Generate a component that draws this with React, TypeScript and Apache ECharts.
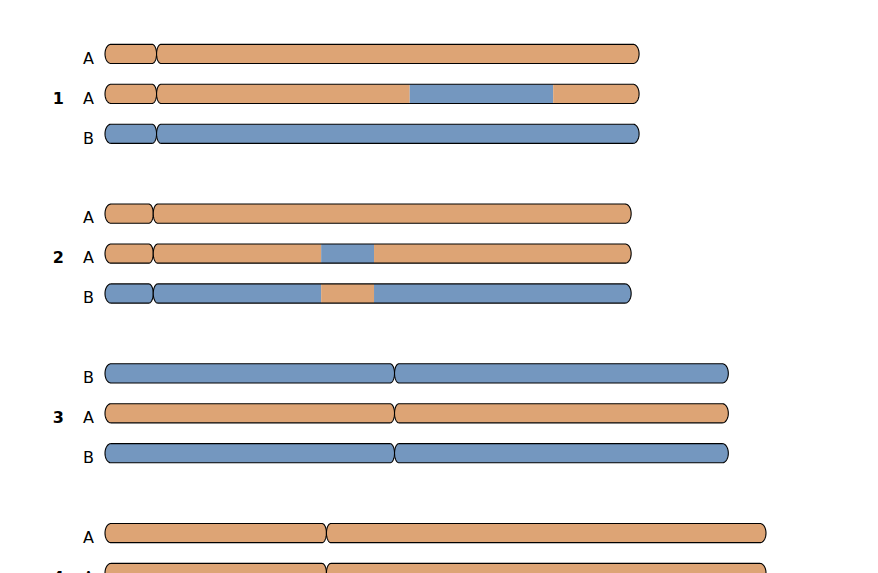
import React, { useEffect, useRef } from 'react';
import * as echarts from 'echarts';

const chromosomeNames = ['1', '2', '3', '4'];
const chromosomeLengths = [80.8, 79.6, 94.3, 100.0];
const centromerePositions = [7.8, 7.3, 43.8, 33.5];
const haplotypeLabels = [
  ['A', 'A', 'B'],
  ['A', 'A', 'B'],
  ['B', 'A', 'B'],
  ['A', 'A', 'B'],
];
// segments: [start, end, haplotype]
const chr1Segments = [
  [[0, 80.8, 'A']],
  [[0, 46.1, 'A'], [46.1, 67.8, 'B'], [67.8, 80.8, 'A']],
  [[0, 80.8, 'B']],
];
const chr2Segments = [
  [[0, 79.6, 'A']],
  [[0, 32.7, 'A'], [32.7, 40.7, 'B'], [40.7, 79.6, 'A']],
  [[0, 32.7, 'B'], [32.7, 40.7, 'A'], [40.7, 79.6, 'B']],
];
const chr3Segments = [
  [[0, 94.3, 'B']],
  [[0, 94.3, 'A']],
  [[0, 94.3, 'B']],
];
const chr4Segments = [
  [[0, 100.0, 'A']],
  [[0, 100.0, 'A']],
  [[0, 100.0, 'B']],
];
const allSegments = [chr1Segments, chr2Segments, chr3Segments, chr4Segments];
const haplotypeColors: Record<string, string> = { A: '#DDA475', B: '#7497BF' };

export default function App() {
  const ref = useRef<HTMLDivElement>(null);
  useEffect(() => {
    document.body.style.margin = '0';
    document.body.style.overflow = 'hidden';
    const chart = echarts.init(ref.current!, undefined, { renderer: 'svg' });

    const data: number[][] = [];
    haplotypeLabels.forEach((rows, g) => {
      rows.forEach((_, r) => data.push([g * 4 + r, g, r]));
    });

    const renderItem = (params: any, api: any) => {
      const k = api.value(0);
      const g = api.value(1);
      const r = api.value(2);
      const len = chromosomeLengths[g];
      const cen = centromerePositions[g];
      const [x0, cy] = api.coord([0, k]);
      const x1 = api.coord([len, k])[0];
      const xc = api.coord([cen, k])[0];
      const h = api.size([0, 1])[1] * 0.24;
      const capOuter = 6;
      const capInner = 4.5;
      const arms = [
        { a: x0, b: xc, rl: capOuter, rr: capInner },
        { a: xc, b: x1, rl: capInner, rr: capOuter },
      ];
      const halfH = (x: number, arm: any) => {
        if (x < arm.a + arm.rl) {
          const t = (arm.a + arm.rl - x) / arm.rl;
          return h * Math.sqrt(Math.max(0, 1 - t * t));
        }
        if (x > arm.b - arm.rr) {
          const t = (x - (arm.b - arm.rr)) / arm.rr;
          return h * Math.sqrt(Math.max(0, 1 - t * t));
        }
        return h;
      };
      const shapePoints = (s: number, e: number, arm: any) => {
        const xs = [s, e];
        const N = 16;
        for (let i = 0; i <= N; i++) {
          const th = (Math.PI / 2) * (i / N);
          xs.push(arm.a + arm.rl * (1 - Math.cos(th)));
          xs.push(arm.b - arm.rr * (1 - Math.cos(th)));
        }
        const sorted = xs.filter((x) => x >= s && x <= e).sort((p, q) => p - q);
        const top = sorted.map((x) => [x, cy - halfH(x, arm)]);
        const bottom = sorted
          .slice()
          .reverse()
          .map((x) => [x, cy + halfH(x, arm)]);
        return top.concat(bottom);
      };

      const children: any[] = [];
      const segs = allSegments[g][r];
      arms.forEach((arm) => {
        segs.forEach((seg: any) => {
          const s = Math.max(api.coord([seg[0], k])[0], arm.a);
          const e = Math.min(api.coord([seg[1], k])[0], arm.b);
          if (e <= s) return;
          children.push({
            type: 'polygon',
            shape: { points: shapePoints(s, e, arm) },
            style: { fill: haplotypeColors[seg[2]], stroke: null },
          });
        });
        children.push({
          type: 'polygon',
          shape: { points: shapePoints(arm.a, arm.b, arm) },
          style: { fill: 'none', stroke: '#000', lineWidth: 1.1 },
        });
      });
      children.push({
        type: 'text',
        style: {
          text: haplotypeLabels[g][r],
          x: x0 - 11,
          y: cy + 4.3,
          align: 'right',
          verticalAlign: 'middle',
          fontSize: 16,
          fontFamily: 'DejaVu Sans',
          fill: '#000',
        },
      });
      if (r === 1) {
        children.push({
          type: 'text',
          style: {
            text: chromosomeNames[g],
            x: x0 - 41,
            y: cy + 4.3,
            align: 'right',
            verticalAlign: 'middle',
            fontSize: 16,
            fontWeight: 'bold',
            fontFamily: 'DejaVu Sans',
            fill: '#000',
          },
        });
      }
      return { type: 'group', children };
    };

    chart.setOption({
      animation: false,
      grid: { left: 105, top: 14, width: 661, height: 560 },
      xAxis: { type: 'value', min: 0, max: 100, show: false },
      yAxis: { type: 'value', min: -1, max: 13, inverse: true, show: false },
      series: [
        {
          type: 'custom',
          renderItem,
          data,
          clip: false,
          silent: true,
        },
      ],
    });
    return () => chart.dispose();
  }, []);
  return <div ref={ref} style={{ width: 878, height: 573 }} />;
}
